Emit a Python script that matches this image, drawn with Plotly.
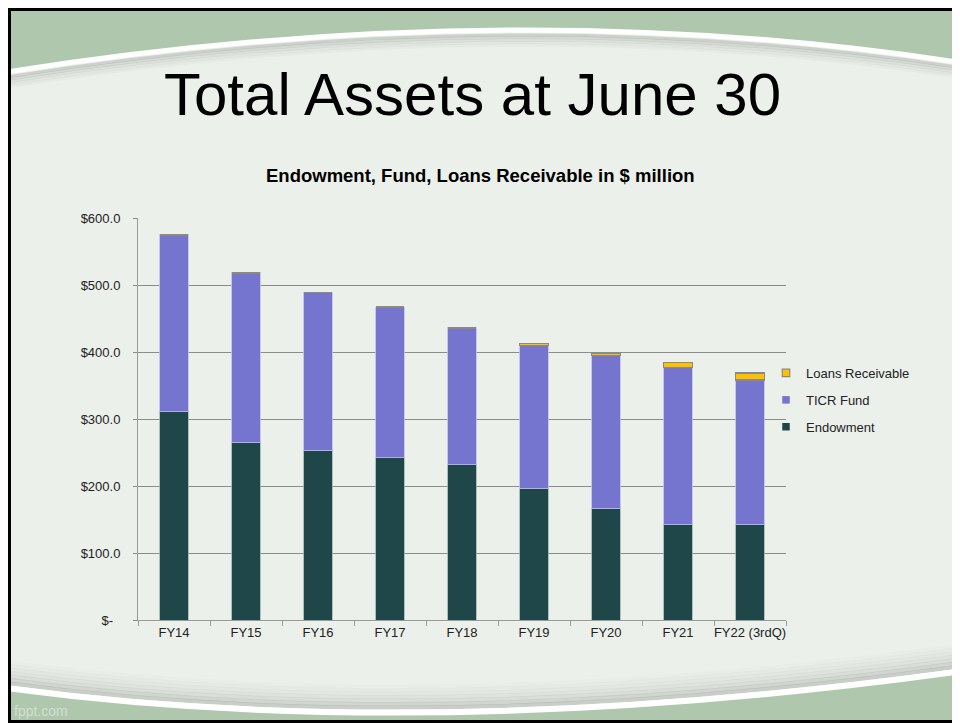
import plotly.graph_objects as go

categories = ["FY14", "FY15", "FY16", "FY17", "FY18", "FY19", "FY20", "FY21", "FY22 (3rdQ)"]
endowment = [311, 265, 253, 242, 232, 197, 167, 142, 142]
ticr_fund = [264, 253, 236, 225, 204, 212.5, 228, 235, 216]
loans_receivable = [0, 0, 0, 0, 0, 3.5, 2.5, 7, 11]
y_tick_values = [0, 100, 200, 300, 400, 500, 600]
y_tick_labels = ["$-\u00a0\u00a0", "$100.0", "$200.0", "$300.0", "$400.0", "$500.0", "$600.0"]

# the page body adds an 8px margin, so the figure is 8px smaller and coordinates
# below are given in window pixels
OFF = 8
W, H = 960 - OFF, 723 - OFF
L, R, T, B = 138, 786, 218, 620
BG = "#ecf0eb"
GREEN = "#afc8ad"

COL_END = "#1f4749"
COL_TICR = "#7575d0"
COL_LOAN = "#ffc000"


def px(x):
    return (x - L) / (R - L)


def py(y):
    return (B - y) / (B - T)


def P(x, y):
    return f"{px(x):.5f},{py(y):.5f}"


fig = go.Figure()
fig.add_trace(go.Bar(x=categories, y=endowment, name="Endowment", showlegend=False,
                     marker=dict(color=COL_END, line=dict(color="rgba(150,170,170,0.7)", width=1))))
fig.add_trace(go.Bar(x=categories, y=ticr_fund, name="TICR Fund", showlegend=False,
                     marker=dict(color=COL_TICR, line=dict(color="rgba(190,190,235,0.8)", width=1))))
fig.add_trace(go.Bar(x=categories, y=loans_receivable, name="Loans Receivable", showlegend=False,
                     marker=dict(color=COL_LOAN, line=dict(color="#8a8a80", width=1.5))))

# legend entries with small square keys
for name, col, lc, lw, grp in [("Loans Receivable", COL_LOAN, "#8a8a80", 1.2, "a"),
                               ("TICR Fund", COL_TICR, COL_TICR, 0, "b"),
                               ("Endowment", COL_END, COL_END, 0, "c")]:
    fig.add_trace(go.Scatter(x=[None], y=[None], mode="markers", name=name, legendgroup=grp,
                             marker=dict(symbol="square", size=7.5, color=col, line=dict(color=lc, width=lw))))

shapes = []
shapes.append(dict(type="rect", xref="paper", yref="paper", x0=px(6), x1=px(970), y0=py(4), y1=py(725),
                   fillcolor=BG, line=dict(width=0), layer="below"))
shapes.append(dict(type="path", xref="paper", yref="paper", layer="below",
                   path=f"M{P(6,0)} L{P(970,0)} L{P(970,64)} Q{P(512,-8)} {P(6,72)} Z",
                   fillcolor=GREEN, line=dict(width=0)))
for i, op in enumerate([0.22, 0.16, 0.11, 0.07, 0.04]):
    d = 5 + i * 2.5
    shapes.append(dict(type="path", xref="paper", yref="paper", layer="below",
                       path=f"M{P(6,72+d)} Q{P(512,-8+d)} {P(970,64+d)}",
                       line=dict(color=f"rgba(90,100,90,{op})", width=3)))
shapes.append(dict(type="path", xref="paper", yref="paper", layer="below",
                   path=f"M{P(6,72)} Q{P(512,-8)} {P(970,64)}",
                   line=dict(color="white", width=5)))
shapes.append(dict(type="path", xref="paper", yref="paper", layer="below",
                   path=f"M{P(6,688)} Q{P(430,745)} {P(970,670)} L{P(970,725)} L{P(6,725)} Z",
                   fillcolor=GREEN, line=dict(width=0)))
for i, op in enumerate([0.24, 0.18, 0.13, 0.09, 0.06, 0.04, 0.02]):
    d = 5 + i * 3.5
    shapes.append(dict(type="path", xref="paper", yref="paper", layer="below",
                       path=f"M{P(6,688-d)} Q{P(430,745-d)} {P(970,670-d)}",
                       line=dict(color=f"rgba(90,100,90,{op})", width=4)))
shapes.append(dict(type="path", xref="paper", yref="paper", layer="below",
                   path=f"M{P(6,688)} Q{P(430,745)} {P(970,670)}",
                   line=dict(color="white", width=6)))
# black frame: left, top and bottom edges only
shapes.append(dict(type="path", xref="paper", yref="paper", layer="above",
                   path=f"M{P(990,9.5)} L{P(9.5,9.5)} L{P(9.5,721.5)} L{P(990,721.5)}",
                   line=dict(color="black", width=3)))

annotations = [
    dict(text="Total Assets at June 30", x=px(472), y=py(95), xref="paper", yref="paper",
         showarrow=False, font=dict(family="Liberation Sans, Arial", size=60, color="black"),
         xanchor="center", yanchor="middle"),
    dict(text="<b>Endowment, Fund, Loans Receivable in $ million</b>", x=px(480), y=py(175),
         xref="paper", yref="paper", showarrow=False,
         font=dict(family="Liberation Sans, Arial", size=18.5, color="black"),
         xanchor="center", yanchor="middle"),
    dict(text="fppt.com", x=px(12), y=py(711), xref="paper", yref="paper", showarrow=False,
         font=dict(family="Liberation Sans, Arial", size=14, color="#d3ddd2"),
         xanchor="left", yanchor="middle"),
]

fig.update_layout(
    width=W, height=H,
    margin=dict(l=L - OFF, r=960 - R, t=T - OFF, b=723 - B, pad=0),
    paper_bgcolor="white", plot_bgcolor="rgba(0,0,0,0)",
    barmode="stack", bargap=0.6,
    font=dict(family="Liberation Sans, Arial", size=13, color="#222222"),
    shapes=shapes, annotations=annotations,
    legend=dict(x=px(766), y=py(400), xanchor="left", yanchor="middle",
                bgcolor="rgba(0,0,0,0)", font=dict(size=13, color="#222222"),
                tracegroupgap=7, traceorder="grouped", itemwidth=30),
    xaxis=dict(showline=True, linecolor="#9a9a9a", linewidth=1, ticks="outside", tickson="boundaries",
               ticklen=5, tickcolor="#9a9a9a", showgrid=False, tickangle=0,
               tickfont=dict(size=13, color="#222222")),
    yaxis=dict(range=[0, 600], tickvals=y_tick_values, ticktext=y_tick_labels, showline=True,
               linecolor="#9a9a9a", linewidth=1, ticks="outside", ticklen=4, tickcolor="#8c8c8c",
               showgrid=True, gridcolor="#8c8c8c", gridwidth=1, zeroline=False,
               tickfont=dict(size=13, color="#222222"), ticklabelstandoff=10),
)

fig.write_html("out.html")
